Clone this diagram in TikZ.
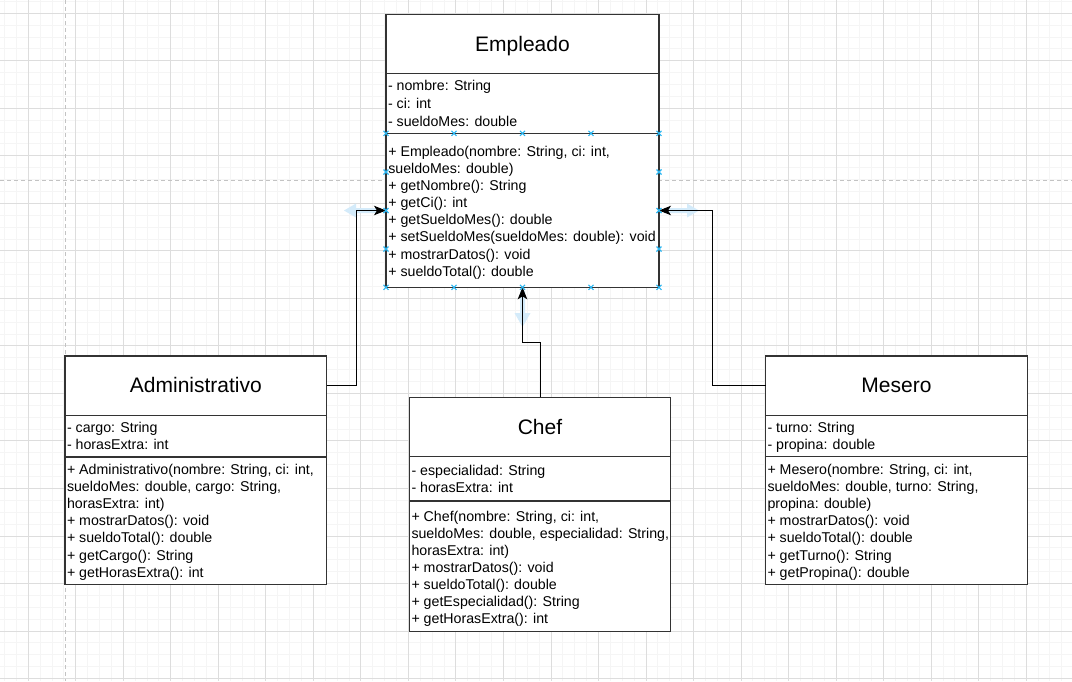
\documentclass[tikz,border=0pt]{standalone}
\usepackage{fontspec}
\setmainfont{Liberation Sans}
\usetikzlibrary{arrows.meta}
\definecolor{gridmaj}{RGB}{221,221,221}
\definecolor{gridmin}{RGB}{245,245,245}
\definecolor{pagebrk}{RGB}{195,195,195}
\definecolor{selblue}{RGB}{41,182,242}
\definecolor{hoverblue}{RGB}{212,235,250}
\definecolor{boxline}{RGB}{51,51,51}
\tikzset{
  compart/.style={draw=boxline, line width=1.2pt, fill=white, inner sep=0pt, outer sep=0pt, anchor=north west},
  hdr/.style={compart, font=\fontsize{21}{25}\selectfont, text height=18pt, text depth=4pt},
  mem/.style={inner sep=0pt, outer sep=0pt, anchor=base west, font=\fontsize{14.2}{17}\selectfont},
  conn/.style={draw=black, line width=1pt, -{Stealth[length=12pt,width=9.5pt,inset=3pt]}},
  selx/.style={draw=selblue, line width=1.1pt},
  gridminor/.style={draw=gridmin, line width=1pt},
  gridmajor/.style={draw=gridmaj, line width=1pt},
  pagebreak/.style={draw=pagebrk, line width=1pt, dash pattern=on 4pt off 3pt},
}
\begin{document}
\begin{tikzpicture}[x=1pt, y=-1pt]
\useasboundingbox (0,0) rectangle (1072,681);
\fill[white] (0,0) rectangle (1072,681);
% grid
\foreach \j in {-3,...,88} \draw[gridminor] ({28.3+\j*11.88},0) -- ({28.3+\j*11.88},681);
\foreach \j in {-2,...,57} \draw[gridminor] (0,{13.3+\j*11.88}) -- (1072,{13.3+\j*11.88});
\foreach \j in {-1,...,22} \draw[gridmajor] ({28.3+\j*47.52},0) -- ({28.3+\j*47.52},681);
\foreach \j in {0,...,14} \draw[gridmajor] (0,{13.3+\j*47.52}) -- (1072,{13.3+\j*47.52});
% page breaks
\draw[pagebreak] (65,0) -- (65,681);
\draw[pagebreak] (0,180) -- (1072,180);
% hover arrows
\fill[hoverblue] (344,210.5) -- (356,203.5) -- (356,208) -- (380,208) -- (380,213) -- (356,213) -- (356,217.5) -- cycle;
\fill[hoverblue] (699,210.5) -- (687,203.5) -- (687,208) -- (664,208) -- (664,213) -- (687,213) -- (687,217.5) -- cycle;
\fill[hoverblue] (522.5,327) -- (514.5,313) -- (520,313) -- (520,291) -- (525,291) -- (525,313) -- (530.5,313) -- cycle;

% Empleado
\node[hdr, minimum width=273pt, minimum height=59pt] (emph) at (386,14.7) {Empleado};
\node[compart, minimum width=273pt, minimum height=59.6pt] (empa) at (emph.south west) {};
\node[compart, minimum width=273pt, minimum height=154pt] (empm) at (empa.south west) {};
% Administrativo
\node[hdr, minimum width=261.7pt, minimum height=59.3pt] (admh) at (65,356) {Administrativo};
\node[compart, minimum width=261.7pt, minimum height=41.7pt] (adma) at (admh.south west) {};
\node[compart, minimum width=261.7pt, minimum height=127.3pt] (admm) at (adma.south west) {};
% Chef
\node[hdr, minimum width=261.4pt, minimum height=59.4pt] (chefh) at (409.3,397.3) {Chef};
\node[compart, minimum width=261.4pt, minimum height=44.3pt] (chefa) at (chefh.south west) {};
\node[compart, minimum width=261.4pt, minimum height=130.7pt] (chefm) at (chefa.south west) {};
% Mesero
\node[hdr, minimum width=261.6pt, minimum height=59.3pt] (mesh) at (765.7,356) {Mesero};
\node[compart, minimum width=261.6pt, minimum height=41.4pt] (mesa) at (mesh.south west) {};
\node[compart, minimum width=261.6pt, minimum height=127.6pt] (mesm) at (mesa.south west) {};

% connectors
\coordinate (empL) at (empm.west |- 0,210.5);
\coordinate (empR) at (empm.east |- 0,210.5);
\draw[conn] (admh.east) -- ++(29.5,0) |- (empL);
\draw[conn] (chefh.north) -- ++(0,-55) -| (empm.south);
\draw[conn] (mesh.west) -- ++(-53.4,0) |- (empR);

% texts
\foreach \t [count=\i] in {{- nombre: String},{- ci: int},{- sueldoMes: double}}
  \node[mem] (ea\i) at (388,{90.5+(\i-1)*18.2}) {\t};
\foreach \t [count=\i] in {{+ Empleado(nombre: String, ci: int,},{sueldoMes: double)},{+ getNombre(): String},{+ getCi(): int},{+ getSueldoMes(): double},{+ setSueldoMes(sueldoMes: double): void},{+ mostrarDatos(): void},{+ sueldoTotal(): double}}
  \node[mem] (em\i) at (388.3,{156.7+(\i-1)*17.05}) {\t};

\foreach \t [count=\i] in {{- cargo: String},{- horasExtra: int}}
  \node[mem] (aa\i) at (67,{432.3+(\i-1)*16.8}) {\t};
\foreach \t [count=\i] in {{+ Administrativo(nombre: String, ci: int,},{sueldoMes: double, cargo: String,},{horasExtra: int)},{+ mostrarDatos(): void},{+ sueldoTotal(): double},{+ getCargo(): String},{+ getHorasExtra(): int}}
  \node[mem] (am\i) at (67,{474.3+(\i-1)*17.17}) {\t};

\foreach \t [count=\i] in {{- especialidad: String},{- horasExtra: int}}
  \node[mem] (ca\i) at (411.5,{475.7+(\i-1)*16.6}) {\t};
\foreach \t [count=\i] in {{+ Chef(nombre: String, ci: int,},{sueldoMes: double, especialidad: String,},{horasExtra: int)},{+ mostrarDatos(): void},{+ sueldoTotal(): double},{+ getEspecialidad(): String},{+ getHorasExtra(): int}}
  \node[mem] (cm\i) at (411.5,{521.7+(\i-1)*16.93}) {\t};

\foreach \t [count=\i] in {{- turno: String},{- propina: double}}
  \node[mem] (ma\i) at (767.5,{432.3+(\i-1)*16.7}) {\t};
\foreach \t [count=\i] in {{+ Mesero(nombre: String, ci: int,},{sueldoMes: double, turno: String,},{propina: double)},{+ mostrarDatos(): void},{+ sueldoTotal(): double},{+ getTurno(): String},{+ getPropina(): double}}
  \node[mem] (mm\i) at (767.5,{474.3+(\i-1)*17.17}) {\t};

% selection markers
\foreach \x/\y in {386/133.3,454/133.3,522.5/133.3,591/133.3,659/133.3,
                   386/287.3,454/287.3,522.5/287.3,591/287.3,659/287.3,
                   386/172,386/210.5,386/249,659/172,659/210.5,659/249}
  \draw[selx] (\x-2.5,\y-2.5) -- (\x+2.5,\y+2.5) (\x-2.5,\y+2.5) -- (\x+2.5,\y-2.5);
\end{tikzpicture}
\end{document}
